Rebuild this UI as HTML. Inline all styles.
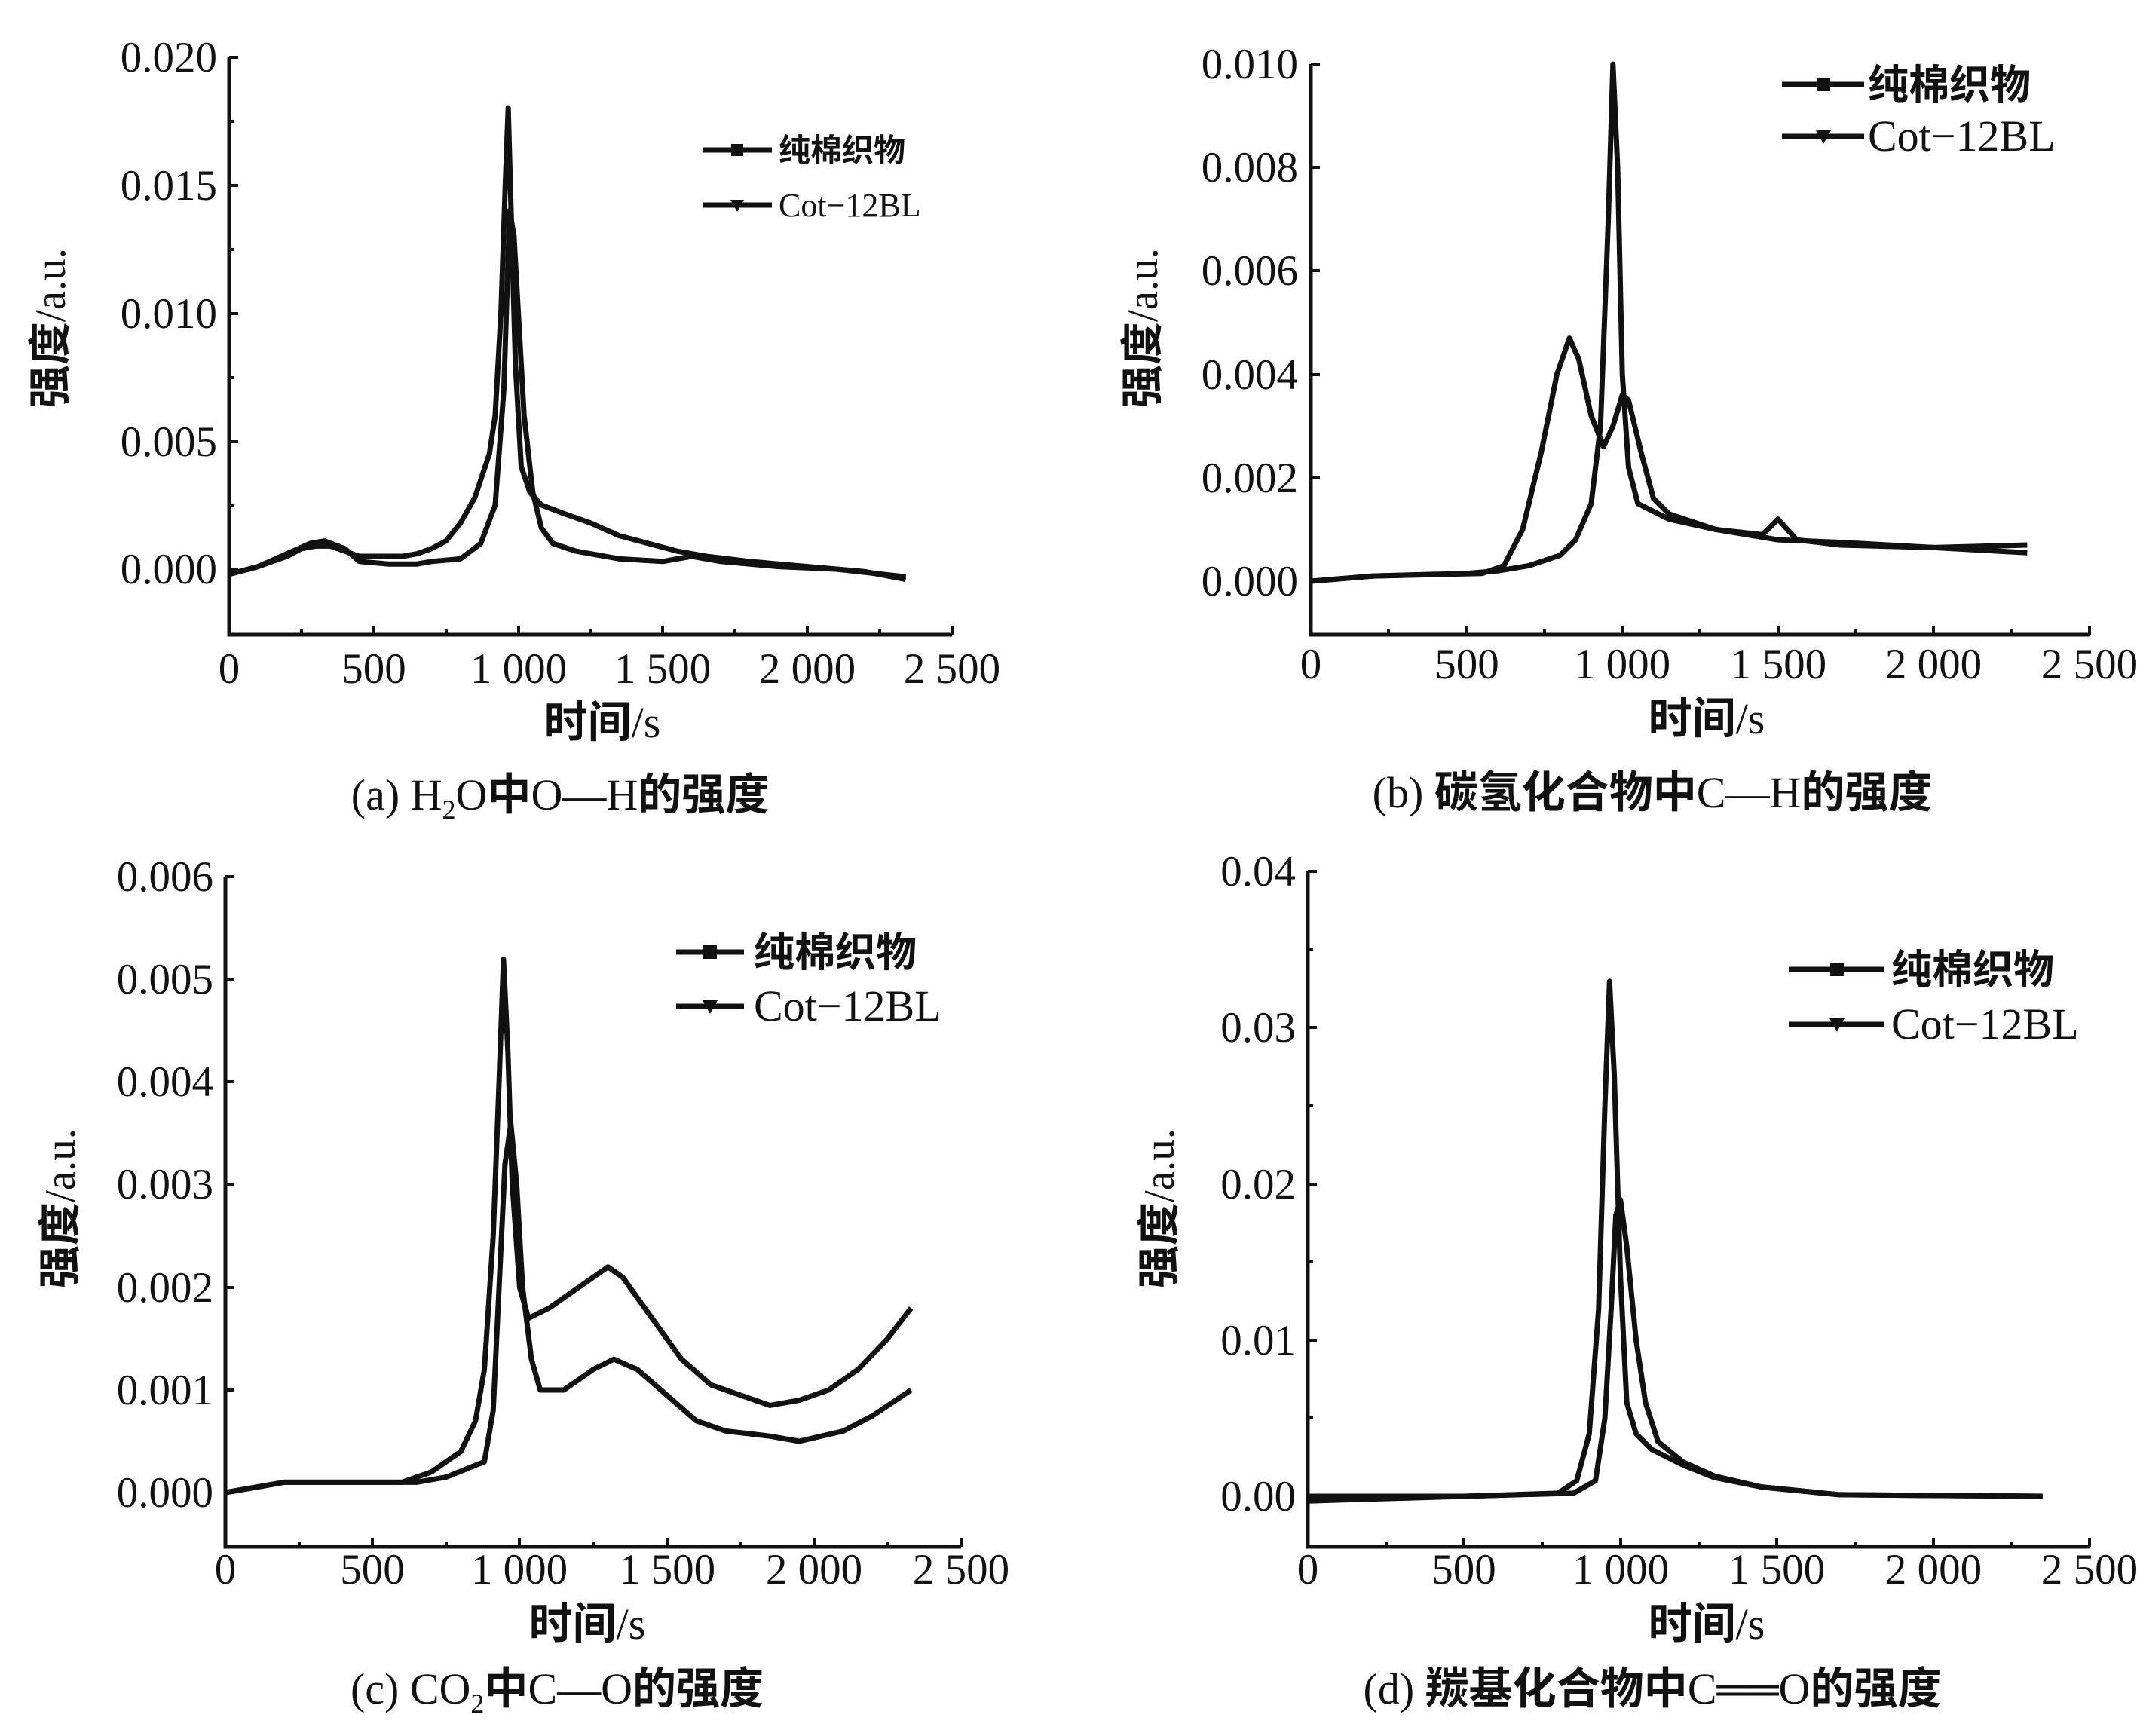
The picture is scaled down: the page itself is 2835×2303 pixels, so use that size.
<!DOCTYPE html>
<html><head><meta charset="utf-8"><style>
html,body{margin:0;padding:0;background:#fff}
svg{display:block}
text{font-family:"Liberation Serif","Noto Serif CJK SC","Noto Sans CJK SC",serif;fill:#111}
.t{font-size:57px}
.c{font-family:"Noto Sans CJK SC","WenQuanYi Zen Hei",sans-serif;font-weight:bold}
.ax{stroke:#111;stroke-width:5;fill:none}
.s{stroke:#111;stroke-width:7;fill:none;vector-effect:non-scaling-stroke;stroke-linejoin:round}
.lg{stroke:#111;stroke-width:7;fill:none}
</style></head><body>
<svg width="2835" height="2303" viewBox="0 0 2835 2303" xmlns="http://www.w3.org/2000/svg">

<!-- Panel a -->
<g>
<path class="ax" d="M304,76 V842 H1263"/>
<g stroke="#111" stroke-width="4">
<path d="M304,76h12M304,246h12M304,416h12M304,586h12M304,755h12M304,161h7M304,331h7M304,501h7M304,671h7"/>
<path d="M304,842v-12M496,842v-12M688,842v-12M879,842v-12M1071,842v-12M1263,842v-12M400,842v-7M592,842v-7M783,842v-7M975,842v-7M1167,842v-7"/>
</g>
<g class="t" text-anchor="end">
<text x="288" y="95">0.020</text><text x="288" y="265">0.015</text><text x="288" y="435">0.010</text><text x="288" y="605">0.005</text><text x="288" y="774">0.000</text>
</g>
<g class="t" text-anchor="middle">
<text x="304" y="906">0</text><text x="496" y="906">500</text><text x="688" y="906">1 000</text><text x="879" y="906">1 500</text><text x="1071" y="906">2 000</text><text x="1263" y="906">2 500</text>
<text x="799" y="978" font-size="58"><tspan class="c">时间</tspan>/s</text>
<text x="743" y="1074" font-size="58">(a) H<tspan font-size="36" dy="12">2</tspan><tspan dy="-12">O</tspan><tspan class="c">中</tspan>O—H<tspan class="c">的强度</tspan></text>
</g>
<text class="t" transform="translate(86,435) rotate(-90)" text-anchor="middle"><tspan class="c">强度</tspan>/a.u.</text>
<g transform="translate(304,755) scale(0.3836,-34)">
<polyline class="s" points="0,-0.2 100,0.1 200,0.5 250,0.8 300,0.9 350,0.9 400,0.7 450,0.5 500,0.5 600,0.5 650,0.6 700,0.8 750,1.1 800,1.8 850,2.8 900,4.5 920,6 940,10 955,15 965,18 975,14 990,8 1010,4 1040,3 1080,2.5 1150,2.2 1250,1.8 1350,1.3 1450,1.0 1550,0.7 1650,0.5 1800,0.3 2000,0.1 2200,-0.1 2340,-0.4"/>
<polyline class="s" points="0,-0.2 100,0.1 200,0.6 280,1.0 330,1.1 400,0.8 450,0.3 550,0.2 650,0.2 700,0.3 800,0.4 870,1.0 920,2.5 950,7 970,14 985,13 1000,10 1020,6 1050,3 1080,1.6 1120,1.0 1200,0.7 1350,0.4 1500,0.3 1600,0.5 1700,0.3 1900,0.1 2100,0.0 2340,-0.3"/>
</g>
<path class="lg" d="M933,199H1024M933,272H1024"/>
<rect x="970" y="191" width="16" height="16" fill="#111"/>
<path d="M969,265h18l-9,16z" fill="#111"/>
<text x="1033" y="214" font-size="42" class="c">纯棉织物</text>
<text x="1033" y="287" font-size="44">Cot−12BL</text>
</g>

<!-- Panel b -->
<g>
<path class="ax" d="M1739,85 V842 H2772"/>
<g stroke="#111" stroke-width="4">
<path d="M1739,85h12M1739,222h12M1739,359h12M1739,497h12M1739,634h12M1739,771h12"/>
<path d="M1739,842v-12M1946,842v-12M2152,842v-12M2359,842v-12M2565,842v-12M2772,842v-12M1842,842v-7M2049,842v-7M2255,842v-7M2462,842v-7M2669,842v-7"/>
</g>
<g class="t" text-anchor="end">
<text x="1722" y="104">0.010</text><text x="1722" y="241">0.008</text><text x="1722" y="378">0.006</text><text x="1722" y="516">0.004</text><text x="1722" y="653">0.002</text><text x="1722" y="790">0.000</text>
</g>
<g class="t" text-anchor="middle">
<text x="1739" y="900">0</text><text x="1946" y="900">500</text><text x="2152" y="900">1 000</text><text x="2359" y="900">1 500</text><text x="2565" y="900">2 000</text><text x="2772" y="900">2 500</text>
<text x="2264" y="973" font-size="58"><tspan class="c">时间</tspan>/s</text>
<text x="2192" y="1071" font-size="58">(b) <tspan class="c">碳氢化合物中</tspan>C—H<tspan class="c">的强度</tspan></text>
</g>
<text class="t" transform="translate(1535,435) rotate(-90)" text-anchor="middle"><tspan class="c">强度</tspan>/a.u.</text>
<g transform="translate(1739,771) scale(0.4132,-68.6)">
<polyline class="s" points="0,0 200,0.1 500,0.15 600,0.2 700,0.3 800,0.5 850,0.8 900,1.5 930,3 955,7 970,10 985,8 1000,4 1020,2.2 1050,1.5 1150,1.2 1300,1.0 1400,0.9 1500,0.8 1700,0.75 2000,0.65 2300,0.55"/>
<polyline class="s" points="0,0 200,0.1 550,0.15 620,0.3 680,1.0 740,2.5 790,4.0 830,4.7 860,4.3 900,3.2 940,2.6 970,3.0 1000,3.6 1020,3.5 1060,2.5 1100,1.6 1150,1.3 1300,1.0 1450,0.9 1500,1.2 1560,0.8 1700,0.7 2000,0.65 2300,0.7"/>
</g>
<path class="lg" d="M2364,112H2473M2364,181H2473"/>
<rect x="2410" y="103" width="18" height="18" fill="#111"/>
<path d="M2409,173h20l-10,18z" fill="#111"/>
<text x="2478" y="131" font-size="54" class="c">纯棉织物</text>
<text x="2478" y="200" font-size="58">Cot−12BL</text>
</g>

<!-- Panel c -->
<g>
<path class="ax" d="M299,1163 V2052 H1275"/>
<g stroke="#111" stroke-width="4">
<path d="M299,1163h12M299,1299h12M299,1435h12M299,1571h12M299,1708h12M299,1844h12M299,1980h12"/>
<path d="M299,2052v-12M494,2052v-12M689,2052v-12M885,2052v-12M1080,2052v-12M1275,2052v-12M397,2052v-7M592,2052v-7M787,2052v-7M982,2052v-7M1177,2052v-7"/>
</g>
<g class="t" text-anchor="end">
<text x="283" y="1182">0.006</text><text x="283" y="1318">0.005</text><text x="283" y="1454">0.004</text><text x="283" y="1590">0.003</text><text x="283" y="1727">0.002</text><text x="283" y="1863">0.001</text><text x="283" y="1999">0.000</text>
</g>
<g class="t" text-anchor="middle">
<text x="299" y="2101">0</text><text x="494" y="2101">500</text><text x="689" y="2101">1 000</text><text x="885" y="2101">1 500</text><text x="1080" y="2101">2 000</text><text x="1275" y="2101">2 500</text>
<text x="779" y="2174" font-size="58"><tspan class="c">时间</tspan>/s</text>
<text x="739" y="2260" font-size="58">(c) CO<tspan font-size="36" dy="12">2</tspan><tspan dy="-12" class="c">中</tspan>C—O<tspan class="c">的强度</tspan></text>
</g>
<text class="t" transform="translate(99,1603) rotate(-90)" text-anchor="middle"><tspan class="c">强度</tspan>/a.u.</text>
<g transform="translate(299,1980) scale(0.3904,-136)">
<polyline class="s" points="0,0 200,0.1 600,0.1 700,0.2 800,0.4 850,0.7 880,1.2 910,2.5 930,4.0 945,5.2 960,4.3 975,3.0 1000,2.0 1030,1.7 1100,1.8 1200,2.0 1300,2.2 1350,2.1 1450,1.7 1550,1.3 1650,1.05 1750,0.95 1850,0.85 1950,0.9 2050,1.0 2150,1.2 2250,1.5 2330,1.8"/>
<polyline class="s" points="0,0 200,0.1 650,0.1 750,0.15 880,0.3 910,0.8 930,2.0 950,3.2 970,3.6 990,3.0 1010,2.0 1040,1.3 1070,1.0 1150,1.0 1250,1.2 1320,1.3 1400,1.2 1500,0.95 1600,0.7 1700,0.6 1850,0.55 1950,0.5 2100,0.6 2200,0.75 2330,1.0"/>
</g>
<path class="lg" d="M897,1263H987M897,1335H987"/>
<rect x="933" y="1254" width="18" height="18" fill="#111"/>
<path d="M932,1327h20l-10,18z" fill="#111"/>
<text x="1000" y="1282" font-size="54" class="c">纯棉织物</text>
<text x="1000" y="1354" font-size="58">Cot−12BL</text>
</g>

<!-- Panel d -->
<g>
<path class="ax" d="M1735,1156 V2052 H2772"/>
<g stroke="#111" stroke-width="4">
<path d="M1735,1156h12M1735,1363h12M1735,1571h12M1735,1778h12M1735,1985h12M1735,1260h7M1735,1467h7M1735,1674h7M1735,1881h7"/>
<path d="M1735,2052v-12M1942,2052v-12M2150,2052v-12M2357,2052v-12M2565,2052v-12M2772,2052v-12M1839,2052v-7M2046,2052v-7M2254,2052v-7M2461,2052v-7M2668,2052v-7"/>
</g>
<g class="t" text-anchor="end">
<text x="1719" y="1175">0.04</text><text x="1719" y="1382">0.03</text><text x="1719" y="1590">0.02</text><text x="1719" y="1797">0.01</text><text x="1719" y="2004">0.00</text>
</g>
<g class="t" text-anchor="middle">
<text x="1735" y="2101">0</text><text x="1942" y="2101">500</text><text x="2150" y="2101">1 000</text><text x="2357" y="2101">1 500</text><text x="2565" y="2101">2 000</text><text x="2772" y="2101">2 500</text>
<text x="2264" y="2174" font-size="58"><tspan class="c">时间</tspan>/s</text>
<text x="2192" y="2260" font-size="58">(d) <tspan class="c">羰基化合物中</tspan>C══O<tspan class="c">的强度</tspan></text>
</g>
<text class="t" transform="translate(1557,1603) rotate(-90)" text-anchor="middle"><tspan class="c">强度</tspan>/a.u.</text>
<g transform="translate(1735,1985) scale(0.4148,-20.7)">
<polyline class="s" points="0,0 500,0 800,0.2 860,1 900,4 930,12 950,25 965,33 980,27 1000,14 1020,6 1050,4 1100,3 1200,2 1300,1.2 1450,0.6 1700,0.1 2350,0"/>
<polyline class="s" points="0,-0.3 500,0 850,0.2 920,1 950,5 970,12 985,18 1000,19 1020,16 1050,10 1080,6 1120,3.5 1200,2.2 1300,1.3 1450,0.6 1700,0.1 2350,0"/>
</g>
<path class="lg" d="M2373,1286H2500M2373,1359H2500"/>
<rect x="2428" y="1277" width="18" height="18" fill="#111"/>
<path d="M2427,1351h20l-10,18z" fill="#111"/>
<text x="2509" y="1305" font-size="54" class="c">纯棉织物</text>
<text x="2509" y="1378" font-size="58">Cot−12BL</text>
</g>
</svg>
</body></html>
